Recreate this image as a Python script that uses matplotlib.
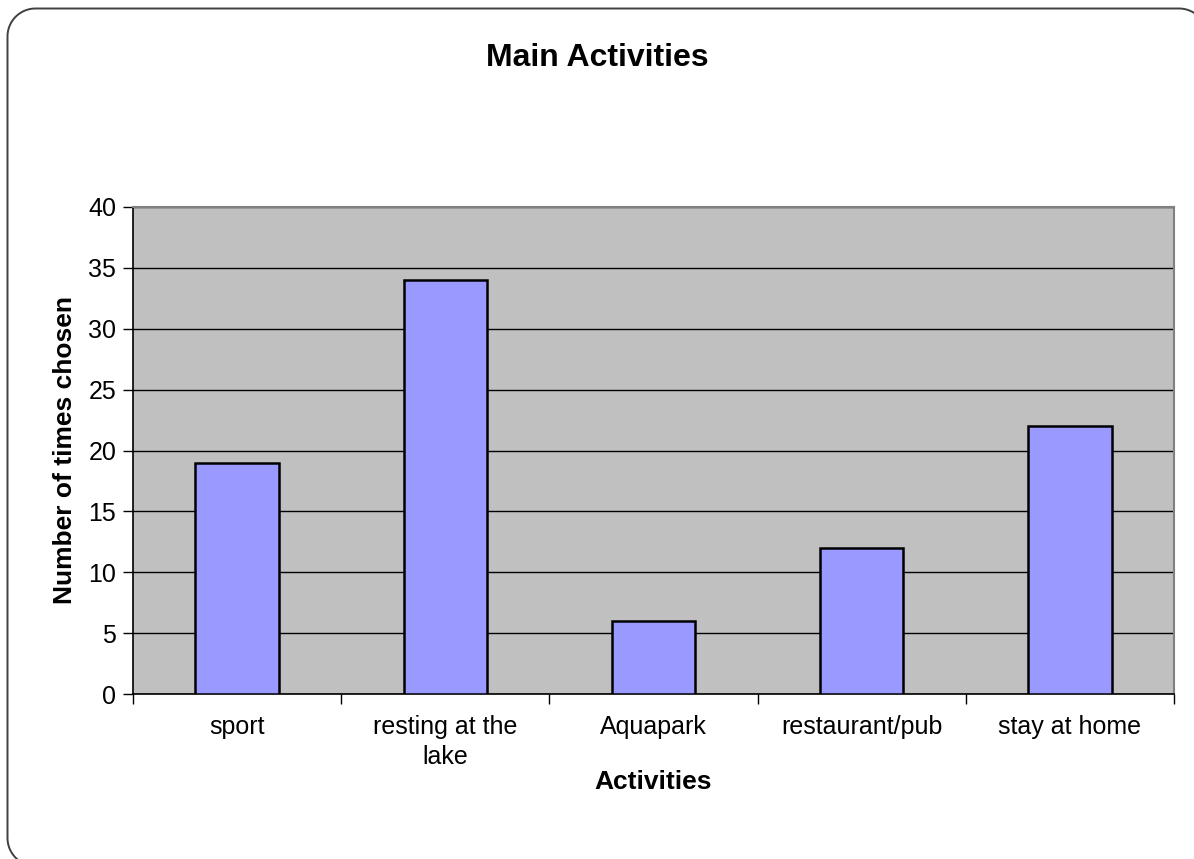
import matplotlib
matplotlib.use("Agg")
import matplotlib.pyplot as plt
from matplotlib.path import Path
from matplotlib.patches import PathPatch
import numpy as np

categories = ["sport", "resting at the\nlake", "Aquapark", "restaurant/pub", "stay at home"]
values = [19, 34, 6, 12, 22]
yticks = [0, 5, 10, 15, 20, 25, 30, 35, 40]

plt.rcParams['font.family'] = ['Liberation Sans', 'DejaVu Sans']

W, H = 1194, 859
fig = plt.figure(figsize=(W/100, H/100), dpi=100)
fig.patch.set_facecolor('white')

# background axes in pixel coordinates (y down) for the rounded border
bg = fig.add_axes([0, 0, 1, 1])
bg.set_xlim(0, W)
bg.set_ylim(H, 0)
bg.axis('off')


def rounded_rect(l, t, r, b, rad, n=24):
    pts = []
    def arc(cx, cy, a0, a1):
        for a in np.linspace(a0, a1, n):
            pts.append((cx + rad * np.cos(a), cy + rad * np.sin(a)))
    # y axis points down: angles measured with y down
    arc(l + rad, t + rad, np.pi, 1.5 * np.pi)        # top-left
    arc(r - rad, t + rad, 1.5 * np.pi, 2 * np.pi)    # top-right
    arc(r - rad, b - rad, 0, 0.5 * np.pi)            # bottom-right
    arc(l + rad, b - rad, 0.5 * np.pi, np.pi)        # bottom-left
    pts.append(pts[0])
    return Path(pts)


border = PathPatch(rounded_rect(7.5, 8.5, 1207, 866, 28), facecolor='none',
                   edgecolor='#404040', linewidth=1.4, clip_on=False)
bg.add_patch(border)

ax = fig.add_axes([133/W, 1 - 694/H, (1174 - 133)/W, (694 - 207)/H])
ax.set_facecolor('#C0C0C0')
x = np.arange(len(categories))
ax.bar(x, values, width=0.4, color='#9999FF', edgecolor='black', linewidth=1.8, zorder=3)
ax.set_xlim(-0.5, len(categories) - 0.5)
ax.set_ylim(0, 40)
ax.set_yticks(yticks)
ax.set_yticklabels([str(v) for v in yticks], fontsize=18)
ax.yaxis.grid(True, color='black', linewidth=1.0, zorder=1)
ax.set_axisbelow(True)
ax.set_xticks(x)
ax.set_xticklabels(categories, fontsize=18, linespacing=1.3)
ax.tick_params(axis='x', length=0, pad=15)
ax.set_xticks(np.arange(-0.5, len(categories)), minor=True)
ax.tick_params(axis='x', which='minor', length=7, width=1, color='black')
ax.tick_params(axis='y', length=7, width=1, color='black', pad=5)
for s in ['top', 'right']:
    ax.spines[s].set_color('#808080')
    ax.spines[s].set_linewidth(1.5)
for s in ['left', 'bottom']:
    ax.spines[s].set_color('black')
    ax.spines[s].set_linewidth(1.2)

ax.set_xlabel('Activities', fontsize=19, fontweight='bold', labelpad=1)
ax.set_ylabel('Number of times chosen', fontsize=19, fontweight='bold', labelpad=8)
fig.text(0.5, 1 - 58/H, 'Main Activities', ha='center', va='center', fontsize=23, fontweight='bold')

fig.savefig('out.png', dpi=100)
